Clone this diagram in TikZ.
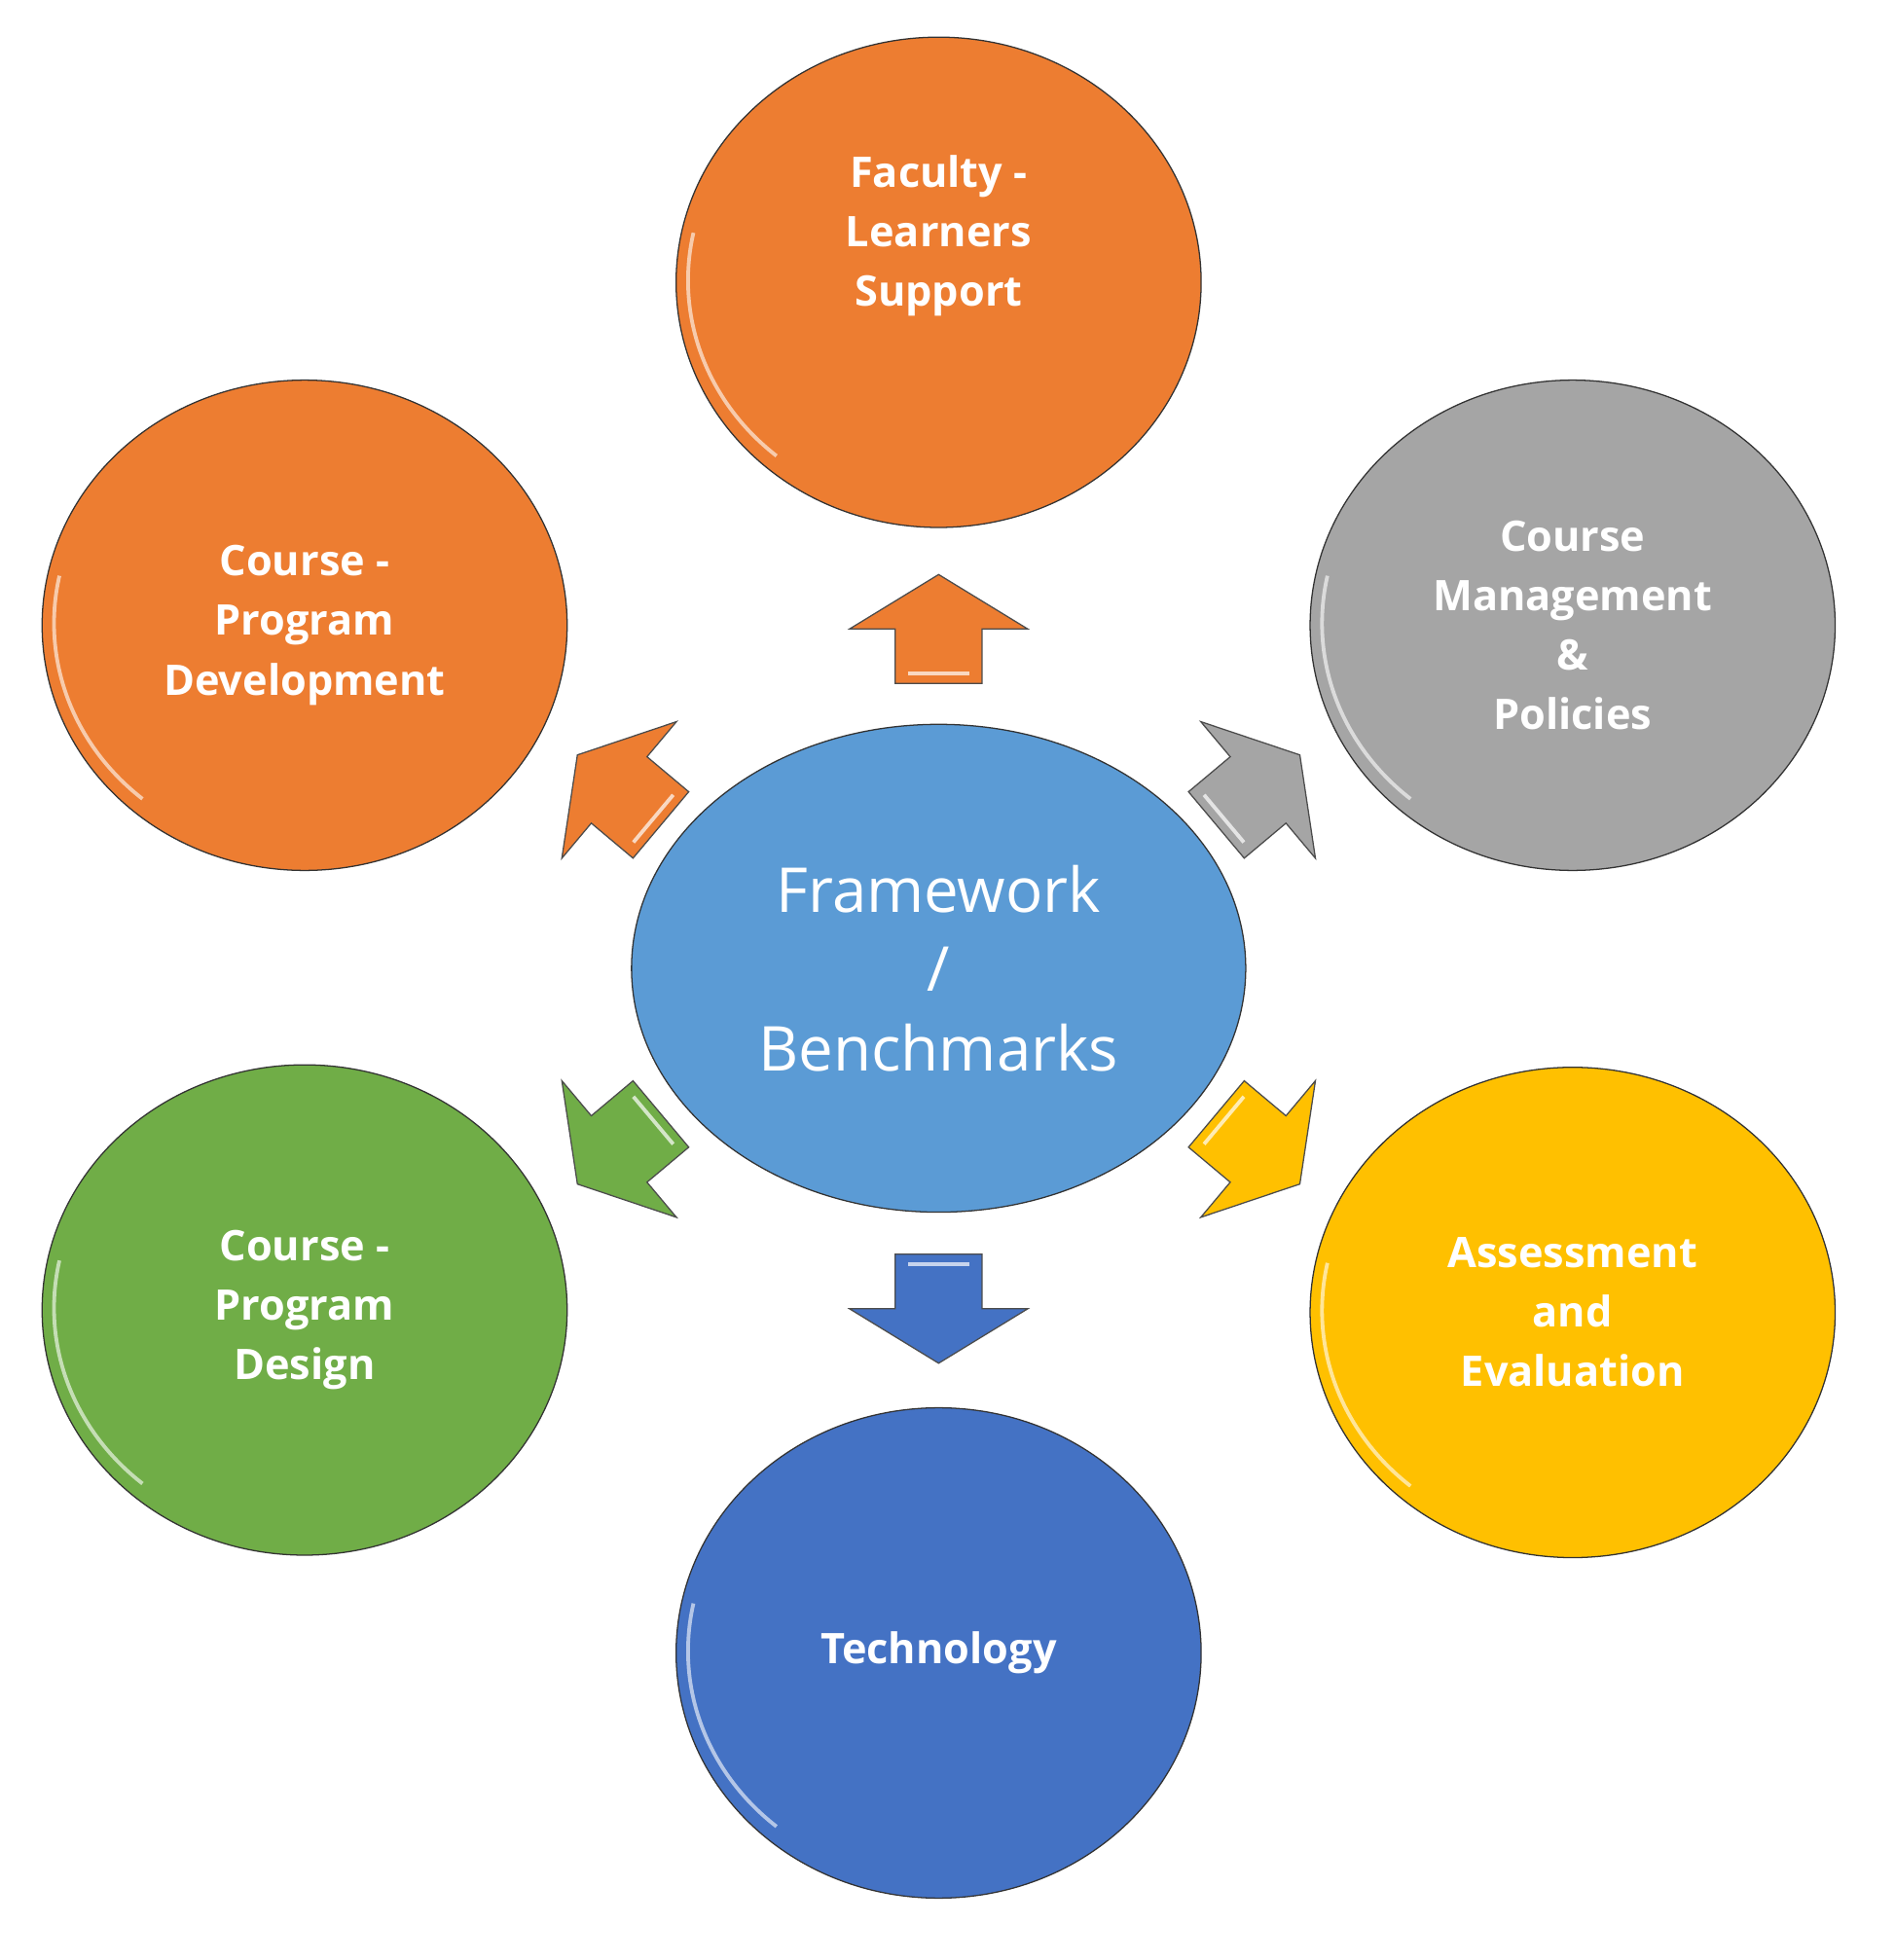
\documentclass[tikz,border=0pt]{standalone}
\usepackage{fontspec}
\setmainfont{Open Sans}
\usetikzlibrary{shapes.geometric}
\definecolor{orng}{HTML}{ED7D31}
\definecolor{gry}{HTML}{A5A5A5}
\definecolor{ylw}{HTML}{FFC000}
\definecolor{grn}{HTML}{70AD47}
\definecolor{blu}{HTML}{4472C4}
\definecolor{lblu}{HTML}{5B9BD5}
\begin{document}
\begin{tikzpicture}[x=1pt,y=-1pt,
  bub/.style={ellipse,draw=black!80,line width=1pt,minimum width=424pt,minimum height=396pt,
    text=white,font=\bfseries\fontsize{34}{48}\selectfont,align=center,inner sep=0pt},
  arr/.style={draw=black!70,line width=1pt,line join=miter}]
\useasboundingbox (0,0) rectangle (1530,1583);
\node[bub,fill=orng] (fl) at (758,228) {Faculty -\\Learners\\Support\\[36pt]};
\node[bub,fill=orng] (pd) at (246,505) {Course -\\Program\\Development};
\node[bub,fill=gry] (cm) at (1270,505) {Course\\Management\\\&\\Policies};
\node[bub,fill=grn] (ds) at (246,1058) {Course -\\Program\\Design};
\node[bub,fill=ylw] (ae) at (1270,1060) {Assessment\\and\\Evaluation};
\node[bub,fill=blu] (te) at (758,1335) {Technology};
\node[ellipse,draw=black!80,line width=1pt,fill=lblu,minimum width=496pt,minimum height=394pt,
  text=white,font=\fontsize{50}{64}\selectfont,align=center,inner sep=0pt] (fw) at (758,782) {Framework\\/\\Benchmarks};
\foreach \n in {fl,pd,cm,ds,ae,te}{
  \draw[white,opacity=0.6,line width=3pt] (\n.center) ++(-198,-40) arc[x radius=200,y radius=185,start angle=192,end angle=130];
}
\foreach \c/\a/\px/\py in {orng/0/758/508,blu/180/758/1057,orng/50/500/638,gry/-50/1016/638,grn/130/500/928,ylw/-130/1016/928}{
  \begin{scope}[shift={(\px,\py)},rotate=\a]
    \draw[arr,fill=\c] (0,-44) -- (72,0) -- (35,0) -- (35,44) -- (-35,44) -- (-35,0) -- (-72,0) -- cycle;
    \draw[white,opacity=0.7,line width=3pt] (-25,36) -- (25,36);
  \end{scope}
}
\end{tikzpicture}
\end{document}
